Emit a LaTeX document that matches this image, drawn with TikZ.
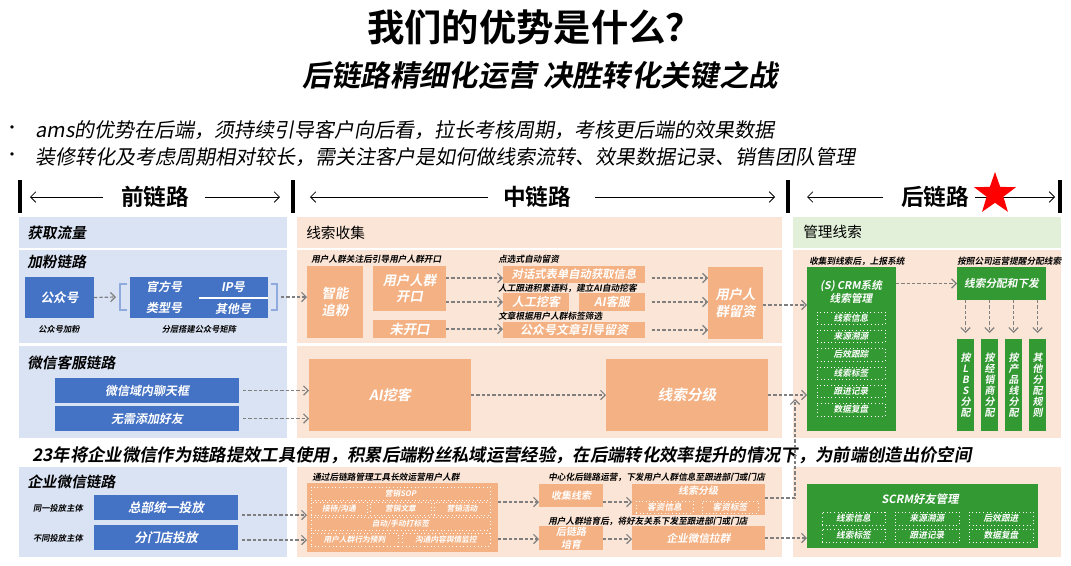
\documentclass[tikz,border=0pt]{standalone}
\usepackage{fontspec}
\setmainfont{Noto Sans CJK SC}[BoldFont={Noto Sans CJK SC Bold}, ItalicFont={Noto Sans CJK SC}, ItalicFeatures={FakeSlant=0.18}, BoldItalicFont={Noto Sans CJK SC Bold}, BoldItalicFeatures={FakeSlant=0.18}]
\usetikzlibrary{arrows.meta,shapes.geometric,fit,calc}
\definecolor{pblue}{HTML}{DAE3F3}
\definecolor{ppeach}{HTML}{FBE5D6}
\definecolor{pgreen}{HTML}{E2F0D9}
\definecolor{dblue}{HTML}{4472C4}
\definecolor{orng}{HTML}{F4B183}
\definecolor{dgreen}{HTML}{339933}
\definecolor{agray}{HTML}{7F7F7F}
\definecolor{brk}{HTML}{8FAADC}
\newcommand\fsz[2]{\fontsize{#1}{#2}\selectfont}
\tikzset{
 pnl/.style={inner sep=0, outer sep=0, draw=none},
 bx/.style={inner sep=0, outer sep=0},
 bb/.style={bx, fill=dblue},
 ob/.style={bx, fill=orng},
 gb/.style={bx, fill=dgreen},
 wt/.style={inner sep=0, text=white, align=center},
 db/.style={inner sep=0, outer sep=0, draw=white, dotted, line width=0.7pt},
 arr/.style={draw=agray, line width=0.9pt, dash pattern=on 2.5pt off 1.5pt, -{Straight Barb[length=3.5pt,width=7pt]}},
 capt/.style={font=\bfseries\itshape\fsz{6.5}{7}, anchor=west, inner sep=0},
 captc/.style={font=\bfseries\itshape\fsz{6.2}{7}, inner sep=0},
 lbl/.style={font=\bfseries\itshape\fsz{11}{13}, anchor=west, inner sep=0},
 lblr/.style={font=\fsz{11}{13}, anchor=west, inner sep=0},
 hd/.style={font=\bfseries\fsz{17}{20}, inner sep=0},
 harr/.style={line width=0.6pt, -{Straight Barb[length=4pt,width=8pt]}},
 bar/.style={line width=2.5pt},
}
% box: style, font size, line skip, corner1, corner2, name, text
\newcommand\bxn[7]{\node[#1, fit={#4 #5}] (#6) {};
  \node[wt, font=\bfseries\itshape\fsz{#2}{#3}] (#6t) at (#6.center) {#7};}
\begin{document}
\begin{tikzpicture}[x=0.75pt,y=-0.75pt]
\useasboundingbox (0,0) rectangle (1071,565);
\fill[white] (0,0) rectangle (1071,565);

% titles
\node[font=\bfseries\fsz{28}{32}] (title) at (535,27) {我们的优势是什么？};
\node[font=\bfseries\itshape\fsz{22}{26}] (sub) at (540,75) {后链路精细化运营 决胜转化关键之战};
\node[font=\fsz{12}{14}, inner sep=0] (bd1) at (12,130) {•};
\node[font=\itshape\fsz{15}{18}, anchor=west, inner sep=0] (b1) at (35,130) {ams的优势在后端，须持续引导客户向后看，拉长考核周期，考核更后端的效果数据};
\node[font=\fsz{12}{14}, inner sep=0] (bd2) at (12,157) {•};
\node[font=\itshape\fsz{15}{18}, anchor=west, inner sep=0] (b2) at (35,157) {装修转化及考虑周期相对较长，需关注客户是如何做线索流转、效果数据记录、销售团队管理};

% header
\draw[bar] (20,180) -- (20,213);
\draw[bar] (293,180) -- (293,213);
\draw[bar] (788,180) -- (788,213);
\draw[bar] (1060,180) -- (1060,213);
\node[hd] (qian) at (155,197) {前链路};
\node[hd] (zhong) at (537,197) {中链路};
\node[hd] (hou) at (935,197) {后链路};
\draw[harr] (103,197) -- (30,197);
\draw[harr] (205,197) -- (280,197);
\draw[harr] (488,197) -- (310,197);
\draw[harr] (595,197) -- (775,197);
\draw[harr] (883,197) -- (807,197);
\draw[harr] (975,197) -- (1055,197);
\node[star, star points=5, star point ratio=2.5, fill=red, minimum size=33pt, inner sep=0] (star) at (995,194) {};

% panels
\node[pnl, fill=pblue, fit={(19,217)(287,248)}] (pl1) {};
\node[pnl, fill=pblue, fit={(19,250)(287,343)}] (pl2) {};
\node[pnl, fill=pblue, fit={(19,346)(287,438)}] (pl3) {};
\node[pnl, fill=pblue, fit={(19,467)(287,557)}] (pl4) {};
\node[pnl, fill=ppeach, fit={(297,217)(782,248)}] (pm1) {};
\node[pnl, fill=ppeach, fit={(297,250)(782,343)}] (pm2) {};
\node[pnl, fill=ppeach, fit={(297,346)(782,438)}] (pm3) {};
\node[pnl, fill=ppeach, fit={(297,467)(782,557)}] (pm4) {};
\node[pnl, fill=pgreen, fit={(793,217)(1061,248)}] (pr1) {};
\node[pnl, fill=ppeach, fit={(793,250)(1061,438)}] (pr2) {};
\node[pnl, fill=ppeach, fit={(793,467)(1061,557)}] (pr4) {};

\node[lbl] (l1) at (27,233) {获取流量};
\node[lblr] (l2) at (306,233) {线索收集};
\node[lblr] (l3) at (803,232) {管理线索};
\node[lbl] (l4) at (27,262) {加粉链路};
\node[lbl] (l5) at (27,363) {微信客服链路};
\node[lbl] (l6) at (27,482) {企业微信链路};

% row 1 left
\bxn{bb}{9.5}{11}{(25,277)}{(94,318)}{gzh}{公众号}
\node[captc] (c1) at (59,329) {公众号加粉};
\node[bb, fit={(130,277)(268,318)}] (mtx) {};
\draw[white, line width=1.2pt] (199,298) -- (268,298);
\node[wt, font=\bfseries\itshape\fsz{9}{11}] (gf) at (164,287) {官方号};
\node[wt, font=\bfseries\itshape\fsz{9}{11}] (lx) at (164,308) {类型号};
\node[wt, font=\bfseries\itshape\fsz{9}{11}] (ip) at (233,287) {IP号};
\node[wt, font=\bfseries\itshape\fsz{9}{11}] (qt) at (233,309) {其他号};
\node[captc] (c2) at (199,329) {分层搭建公众号矩阵};
\draw[brk, line width=1pt] (127,284) -- (120,284) -- (120,310) -- (127,310);
\draw[brk, line width=1pt] (271,284) -- (277,284) -- (277,310) -- (271,310);
\coordinate (lb) at (116,297);
\coordinate (rb) at (281,297);

% row 1 middle
\node[capt] (c3) at (311,259) {用户人群关注后引导用户人群开口};
\bxn{ob}{10}{13}{(307,266)}{(363,338)}{znzf}{智能\\追粉}
\bxn{ob}{10}{12.5}{(373,266)}{(446,311)}{kk}{用户人群\\开口}
\bxn{ob}{10}{12}{(373,320)}{(446,338)}{wkk}{未开口}
\node[capt] (c4) at (498,259) {点选式自动留资};
\bxn{ob}{8.5}{10}{(503,266)}{(645,283)}{dh}{对话式表单自动获取信息}
\node[capt] (c5) at (498,288) {人工跟进积累语料，建立AI自动挖客};
\bxn{ob}{9}{10}{(503,293)}{(569,311)}{rg}{人工挖客}
\bxn{ob}{9}{10}{(579,293)}{(645,311)}{aikf}{AI客服}
\node[capt] (c6) at (498,316) {文章根据用户人群标签筛选};
\bxn{ob}{9}{10}{(503,322)}{(645,338)}{wz}{公众号文章引导留资}
\bxn{ob}{10}{13}{(708,267)}{(763,339)}{lz}{用户人\\群留资}

% right column
\node[capt] (c7) at (809,261) {收集到线索后，上报系统};
\node[gb, fit={(807,267)(896,431)}] (crm) {};
\node[wt, font=\bfseries\itshape\fsz{8}{10}] (crmt) at (851,292) {(S) CRM系统\\线索管理};
\bxn{db}{6.5}{7}{(817,312)}{(885,324)}{k1}{线索信息}
\bxn{db}{6.5}{7}{(817,330)}{(885,342)}{k2}{来源溯源}
\bxn{db}{6.5}{7}{(817,348)}{(885,361)}{k3}{后效跟踪}
\bxn{db}{6.5}{7}{(817,367)}{(885,379)}{k4}{线索标签}
\bxn{db}{6.5}{7}{(817,385)}{(885,397)}{k5}{跟进记录}
\bxn{db}{6.5}{7}{(817,403)}{(885,416)}{k6}{数据复盘}
\node[capt] (c8) at (957,261) {按照公司运营提醒分配线索};
\bxn{gb}{8}{10}{(957,267)}{(1046,300)}{fp}{线索分配和下发}
\bxn{gb}{7.5}{8.3}{(957,339)}{(974,431)}{v1}{按\\L\\B\\S\\分\\配}
\bxn{gb}{7.5}{8.3}{(981,339)}{(998,431)}{v2}{按\\经\\销\\商\\分\\配}
\bxn{gb}{7.5}{8.3}{(1005,339)}{(1022,431)}{v3}{按\\产\\品\\线\\分\\配}
\bxn{gb}{7.5}{8.3}{(1029,339)}{(1046,431)}{v4}{其\\他\\分\\配\\规\\则}

% row 2
\bxn{bb}{9}{11}{(55,378)}{(239,403)}{wx1}{微信域内聊天框}
\bxn{bb}{9}{11}{(55,406)}{(239,431)}{wx2}{无需添加好友}
\bxn{ob}{10.5}{12}{(309,359)}{(471,431)}{aiwk}{AI挖客}
\bxn{ob}{11}{12}{(606,359)}{(768,431)}{xsfj}{线索分级}

% note
\node[font=\bfseries\itshape\fsz{13}{15}, anchor=west, inner sep=0] (note) at (32,455) {23年将企业微信作为链路提效工具使用，积累后端粉丝私域运营经验，在后端转化效率提升的情况下，为前端创造出价空间};

% row 3 left
\node[captc] (c9) at (58,508) {同一投放主体};
\bxn{bb}{9.5}{11}{(94,495)}{(238,520)}{zb}{总部统一投放}
\node[captc] (c10) at (58,538) {不同投放主体};
\bxn{bb}{9.5}{11}{(94,525)}{(238,550)}{md}{分门店投放}

% row 3 middle
\node[capt] (c11) at (312,477) {通过后链路管理工具长效运营用户人群};
\node[ob, fit={(307,483)(498,552)}] (big) {};
\bxn{db}{5.8}{6.5}{(311,487)}{(490,500)}{s1}{营销SOP}
\bxn{db}{5.8}{6.5}{(311,502)}{(367,515)}{s2}{接待/沟通}
\bxn{db}{5.8}{6.5}{(370,502)}{(431,515)}{s3}{营销文章}
\bxn{db}{5.8}{6.5}{(434,502)}{(490,515)}{s4}{营销活动}
\bxn{db}{5.8}{6.5}{(311,517)}{(490,530)}{s5}{自动/手动打标签}
\bxn{db}{5.8}{6.5}{(311,533)}{(398,546)}{s6}{用户人群行为预判}
\bxn{db}{5.8}{6.5}{(402,533)}{(490,546)}{s7}{沟通内容舆情监控}
\node[capt] (c12) at (548,477) {中心化后链路运营，下发用户人群信息至跟进部门或门店};
\bxn{ob}{7.5}{9}{(539,484)}{(603,507)}{sj}{收集线索}
\node[ob, fit={(632,484)(765,515)}] (fj) {};
\node[wt, font=\bfseries\itshape\fsz{7.5}{9}] (fjt) at (698,491) {线索分级};
\bxn{db}{6.5}{7}{(636,501)}{(693,513)}{f1}{客资信息}
\bxn{db}{6.5}{7}{(702,501)}{(758,513)}{f2}{客资标签}
\node[capt] (c13) at (548,521) {用户人群培育后，将好友关系下发至跟进部门或门店};
\bxn{ob}{7.5}{9.5}{(539,526)}{(603,550)}{pc}{后链路\\培育}
\bxn{ob}{8}{9}{(632,526)}{(765,550)}{lq}{企业微信拉群}

% row 3 right
\node[gb, fit={(807,484)(1038,548)}] (scrm) {};
\node[wt, font=\bfseries\itshape\fsz{8.5}{10}] (scrmt) at (920,499) {SCRM好友管理};
\bxn{db}{6.5}{7}{(822,512)}{(885,525)}{m1}{线索信息}
\bxn{db}{6.5}{7}{(895,512)}{(959,525)}{m2}{来源溯源}
\bxn{db}{6.5}{7}{(969,512)}{(1033,525)}{m3}{后效跟进}
\bxn{db}{6.5}{7}{(822,529)}{(885,542)}{m4}{线索标签}
\bxn{db}{6.5}{7}{(895,529)}{(959,542)}{m5}{跟进记录}
\bxn{db}{6.5}{7}{(969,529)}{(1033,542)}{m6}{数据复盘}

% connectors
\draw[arr] (gzh.east) -- (lb);
\draw[arr] (rb) -- (znzf.west |- rb);
\draw[arr] (kk.east |- 0,278) -- (dh.west |- 0,278);
\draw[arr] (kk.east |- rg.west) -- (rg.west);
\draw[arr] (wkk.east) -- (wkk.east -| wz.west);
\draw[arr, shorten <=5pt] (dh.east |- 0,278) -- (lz.west |- 0,278);
\draw[arr, shorten <=5pt] (aikf.east) -- (aikf.east -| lz.west);
\draw[arr, shorten <=5pt] (wz.east) -- (wz.east -| lz.west);
\draw[arr] (lz.east |- 0,305) -- (crm.west |- 0,305);
\draw[arr] (crm.east |- fp.west) -- (fp.west);
\draw[arr, shorten >=4.5pt] (v1.north |- fp.south) -- (v1.north);
\draw[arr, shorten >=4.5pt] (v2.north |- fp.south) -- (v2.north);
\draw[arr, shorten >=4.5pt] (v3.north |- fp.south) -- (v3.north);
\draw[arr, shorten >=4.5pt] (v4.north |- fp.south) -- (v4.north);
\draw[arr, shorten <=3pt] (wx1.east) -- (wx1.east -| aiwk.west);
\draw[arr, shorten <=3pt] (wx2.east) -- (wx2.east -| aiwk.west);
\draw[arr] (aiwk.east) -- (xsfj.west);
\draw[arr] (xsfj.east) -- (xsfj.east -| crm.west);
\draw[arr, shorten <=3pt] (zb.east |- 0,515) -- (big.west |- 0,515);
\draw[arr, shorten <=3pt] (md.east |- 0,540) -- (big.west |- 0,540);
\draw[arr] (big.east |- 0,502) -- (sj.west |- 0,502);
\draw[arr] (big.east |- 0,539) -- (pc.west |- 0,539);
\draw[arr] (sj.east |- 0,502) -- (fj.west |- 0,502);
\draw[arr] (pc.east |- 0,539) -- (lq.west |- 0,539);
\coordinate (corner) at (795,498);
\coordinate (uptip) at (795,399);
\draw[arr] (fj.east |- corner) -- (corner) -- (uptip);
\draw[arr] (lq.east |- 0,538) -- (scrm.west |- 0,538);
\end{tikzpicture}
\end{document}
